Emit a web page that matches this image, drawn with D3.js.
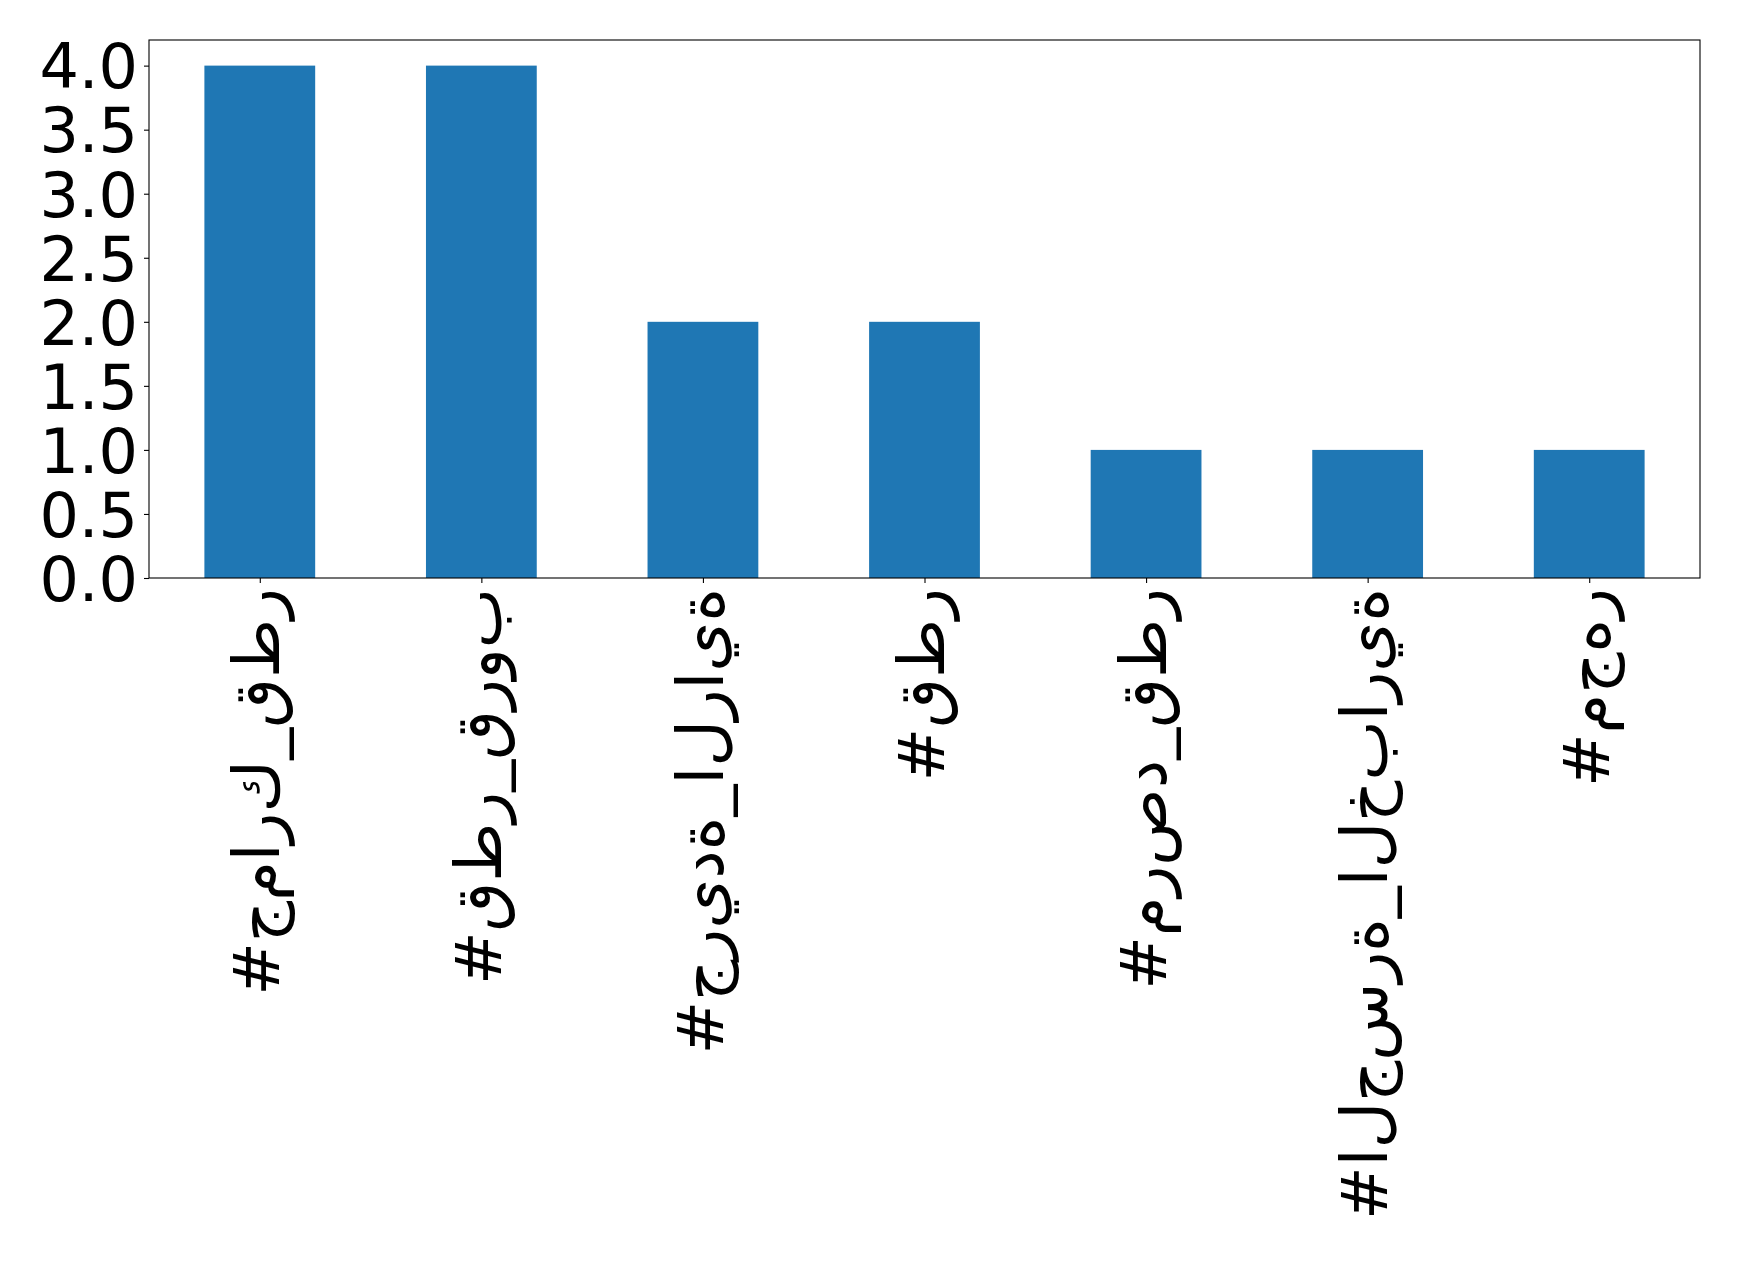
<!DOCTYPE html>
<html>
<head>
<meta charset="utf-8">
<script src="https://cdn.jsdelivr.net/npm/d3@7"></script>
<style>
  html, body { margin: 0; padding: 0; background: #fff; }
  svg { display: block; }
  text { font-family: "DejaVu Sans", sans-serif; fill: #000; }
</style>
</head>
<body>
<svg id="chart" width="1739" height="1263"></svg>
<script>
const categories = ["#جمارك_قطر", "#قطر_قروب", "#جريدة_الراية", "#قطر", "#مرصد_قطر", "#الجسرة_الخبارية", "#مجهر"];
const values = [4, 4, 2, 2, 1, 1, 1];
const yTicks = [0, 0.5, 1, 1.5, 2, 2.5, 3, 3.5, 4];

const W = 1739, H = 1263;
const m = { left: 149, top: 40, right: 1700, bottom: 578 };
const fontSize = 62;
const xFontSize = 64;

const svg = d3.select("#chart");

const x = d3.scaleLinear().domain([-0.5, categories.length - 0.5]).range([m.left, m.right]);
const y = d3.scaleLinear().domain([0, 4.2]).range([m.bottom, m.top]);

// bars
svg.append("g").selectAll("rect").data(values).join("rect")
  .attr("x", (d, i) => x(i - 0.25))
  .attr("width", (d, i) => x(i + 0.25) - x(i - 0.25))
  .attr("y", d => y(d))
  .attr("height", d => y(0) - y(d))
  .attr("fill", "#1f77b4");

// y axis
const yAxis = svg.append("g").attr("transform", `translate(${m.left},0)`)
  .call(d3.axisLeft(y).tickValues(yTicks).tickFormat(d3.format(".1f")).tickSizeOuter(0).tickSize(5).tickPadding(6));
yAxis.select(".domain").remove();
yAxis.selectAll("line").attr("stroke", "#000").attr("stroke-width", 1.1);
yAxis.selectAll("text").attr("font-size", fontSize).attr("font-family", "DejaVu Sans").attr("dy", "0.36em");

// x axis: matplotlib-style unshaped, left-to-right Arabic rendering
function displayLabel(s) {
  return "\u202D" + Array.from(s).join("\u200C") + "\u202C";
}
const xAxis = svg.append("g").attr("transform", `translate(0,${m.bottom})`)
  .call(d3.axisBottom(x).tickValues(d3.range(categories.length)).tickFormat(i => displayLabel(categories[i])).tickSizeOuter(0).tickSize(5).tickPadding(6));
xAxis.select(".domain").remove();
xAxis.selectAll("line").attr("stroke", "#000").attr("stroke-width", 1.1);
xAxis.selectAll("text")
  .attr("font-size", xFontSize)
  .attr("font-family", "DejaVu Sans")
  .attr("text-anchor", "end")
  .attr("direction", "ltr")
  .attr("transform", "rotate(-90)")
  .attr("x", -10)
  .attr("y", 0)
  .attr("dy", "0.3em");

// frame
svg.append("rect")
  .attr("x", m.left).attr("y", m.top)
  .attr("width", m.right - m.left).attr("height", m.bottom - m.top)
  .attr("fill", "none").attr("stroke", "#000").attr("stroke-width", 1.1);
</script>
</body>
</html>
